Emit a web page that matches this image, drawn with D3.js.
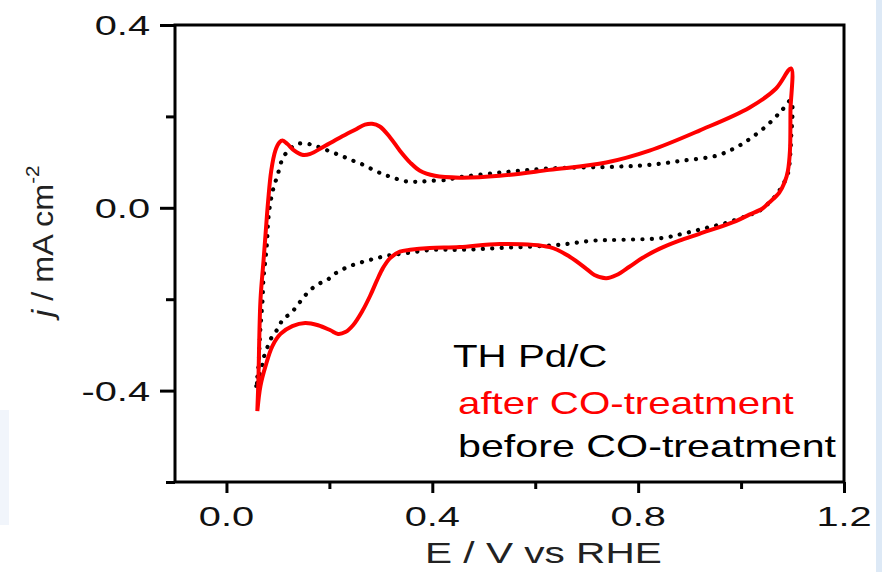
<!DOCTYPE html>
<html>
<head>
<meta charset="utf-8">
<script src="https://cdn.jsdelivr.net/npm/d3@7"></script>
<style>
  body { margin: 0; background: #ffffff; }
  svg { display: block; font-family: "Liberation Sans", Arial, sans-serif; }
</style>
</head>
<body>
<div id="chart"></div>
<script>
// after CO-treatment (red, solid) - potential E (V) and current j (mA cm-2)
const E_AFTER = [0.060, 0.062, 0.066, 0.072, 0.076, 0.081, 0.087, 0.095, 0.103, 0.109, 0.118, 0.132, 0.147, 0.163,
    0.186, 0.221, 0.250, 0.269, 0.283, 0.298, 0.318, 0.337, 0.357, 0.376, 0.405, 0.453, 0.531, 0.628, 0.738, 0.822,
    0.919, 1.016, 1.068, 1.097,
    1.096, 1.095, 1.091, 1.085, 1.074, 1.054, 1.041, 1.016, 0.990, 0.919, 0.880, 0.841, 0.808, 0.783, 0.758, 0.738,
    0.715, 0.700, 0.667, 0.628, 0.531, 0.453, 0.395, 0.357, 0.337, 0.318, 0.304, 0.292, 0.279, 0.264, 0.246, 0.231,
    0.217, 0.202, 0.178, 0.153, 0.128, 0.105, 0.089, 0.076, 0.066, 0.060];
const J_AFTER = [-0.445, -0.379, -0.204, -0.116, -0.057, 0.015, 0.081, 0.125, 0.143, 0.147, 0.140, 0.125, 0.116, 0.118,
    0.132, 0.154, 0.171, 0.182, 0.184, 0.178, 0.154, 0.125, 0.099, 0.081, 0.070, 0.066, 0.070, 0.083, 0.099, 0.125,
    0.169, 0.219, 0.261, 0.305,
    0.213, 0.125, 0.081, 0.057, 0.033, 0.011, -0.002, -0.015, -0.029, -0.057, -0.072, -0.090, -0.110, -0.129, -0.147, -0.154,
    -0.147, -0.134, -0.107, -0.086, -0.079, -0.086, -0.088, -0.092, -0.096, -0.110, -0.132, -0.160, -0.193, -0.226, -0.257, -0.272,
    -0.276, -0.268, -0.257, -0.252, -0.259, -0.276, -0.303, -0.346, -0.390, -0.445];

// before CO-treatment (black, dotted)
const E_BEFORE = [0.058, 0.062, 0.064, 0.066, 0.070, 0.072, 0.076, 0.079, 0.081, 0.085, 0.091, 0.099, 0.110, 0.124,
    0.138, 0.157, 0.172, 0.188, 0.207, 0.227, 0.246, 0.266, 0.289, 0.308, 0.324, 0.343, 0.360, 0.376, 0.395, 0.428,
    0.448, 0.531, 0.628, 0.758, 0.822, 0.886, 0.952, 0.990, 1.021, 1.054, 1.079, 1.097,
    1.097, 1.095, 1.091, 1.074, 1.058, 1.035, 1.010, 0.971, 0.932, 0.893, 0.847, 0.769, 0.711, 0.647, 0.531, 0.453,
    0.401, 0.351, 0.312, 0.279, 0.246, 0.227, 0.207, 0.196, 0.178, 0.163, 0.149, 0.138, 0.124, 0.110, 0.101, 0.089,
    0.079, 0.072, 0.068, 0.062, 0.058];
const J_BEFORE = [-0.390, -0.351, -0.307, -0.263, -0.204, -0.154, -0.110, -0.072, -0.029, 0.009, 0.042, 0.070, 0.110, 0.129,
    0.140, 0.140, 0.136, 0.129, 0.121, 0.112, 0.103, 0.094, 0.081, 0.072, 0.066, 0.059, 0.057, 0.057, 0.059, 0.061,
    0.066, 0.077, 0.086, 0.090, 0.094, 0.103, 0.114, 0.132, 0.154, 0.184, 0.213, 0.235,
    0.147, 0.110, 0.075, 0.037, 0.015, -0.007, -0.018, -0.033, -0.044, -0.055, -0.066, -0.070, -0.072, -0.081, -0.088, -0.092,
    -0.092, -0.099, -0.105, -0.114, -0.125, -0.134, -0.147, -0.158, -0.167, -0.180, -0.197, -0.213, -0.232, -0.243, -0.263, -0.281,
    -0.307, -0.329, -0.351, -0.373, -0.390];

const X_TICKS = [0.0, 0.4, 0.8, 1.2];
const X_MINOR = [0.2, 0.6, 1.0];
const Y_TICKS = [-0.4, 0.0, 0.4];
const Y_MINOR = [-0.6, -0.2, 0.2];

const X_LABEL = "E / V vs RHE";
const LEGEND_TITLE = "TH Pd/C";
const LEGEND_AFTER = "after CO-treatment";
const LEGEND_BEFORE = "before CO-treatment";

const W = 882, H = 572;
const LEFT = 175, RIGHT = 844, TOP = 25, BOTTOM = 482;

const svg = d3.select("#chart").append("svg")
    .attr("width", W)
    .attr("height", H);

// light blue screenshot edges
svg.append("rect").attr("x", 0).attr("y", 0).attr("width", W).attr("height", H).attr("fill", "#ffffff");
svg.append("rect").attr("x", 876).attr("y", 0).attr("width", 6).attr("height", H).attr("fill", "#dde9f6");
svg.append("rect").attr("x", 0).attr("y", 410).attr("width", 9).attr("height", 115).attr("fill", "#f1f5fb");

const x = d3.scaleLinear().domain([-0.1, 1.2]).range([LEFT, RIGHT]);
const y = d3.scaleLinear().domain([-0.6, 0.4]).range([BOTTOM, TOP]);

// stretched text helper (the source figure is horizontally stretched)
function addText(px, py, str, size, anchor, fill, sx) {
    return svg.append("text")
        .attr("transform", `translate(${px},${py}) scale(${sx},1)`)
        .attr("text-anchor", anchor)
        .attr("font-size", size)
        .attr("fill", fill)
        .text(str);
}

// curves
const lineAfter = d3.line()
    .x((d, i) => x(E_AFTER[i]))
    .y((d, i) => y(J_AFTER[i]))
    .curve(d3.curveCatmullRom.alpha(0.5));
const lineBefore = d3.line()
    .x((d, i) => x(E_BEFORE[i]))
    .y((d, i) => y(J_BEFORE[i]))
    .curve(d3.curveCatmullRom.alpha(0.5));

svg.append("path")
    .attr("d", lineBefore(E_BEFORE))
    .attr("fill", "none")
    .attr("stroke", "#000")
    .attr("stroke-width", 4.2)
    .attr("stroke-linecap", "round")
    .attr("stroke-dasharray", "0.1 9.3");

svg.append("path")
    .attr("d", lineAfter(E_AFTER))
    .attr("fill", "none")
    .attr("stroke", "#ff0000")
    .attr("stroke-width", 4)
    .attr("stroke-linejoin", "round");

// axes (ticks only, labels drawn separately)
const axisStyle = g => {
    g.select(".domain").remove();
    g.selectAll("line").attr("stroke", "#000").attr("stroke-width", 3);
    g.selectAll("text").remove();
};
svg.append("g").attr("transform", `translate(${LEFT},0)`)
    .call(d3.axisLeft(y).tickValues(Y_TICKS).tickSize(15)).call(axisStyle);
svg.append("g").attr("transform", `translate(${LEFT},0)`)
    .call(d3.axisLeft(y).tickValues(Y_MINOR).tickSize(9)).call(axisStyle);
svg.append("g").attr("transform", `translate(0,${BOTTOM})`)
    .call(d3.axisBottom(x).tickValues(X_TICKS).tickSize(11)).call(axisStyle);
svg.append("g").attr("transform", `translate(0,${BOTTOM})`)
    .call(d3.axisBottom(x).tickValues(X_MINOR).tickSize(7)).call(axisStyle);

// frame
svg.append("rect")
    .attr("x", LEFT).attr("y", TOP)
    .attr("width", RIGHT - LEFT).attr("height", BOTTOM - TOP)
    .attr("fill", "none")
    .attr("stroke", "#000")
    .attr("stroke-width", 3);

// tick labels (plain hyphen minus as in the figure)
const fmt = v => v.toFixed(1);
Y_TICKS.forEach(v => addText(LEFT - 25, y(v) + 10, fmt(v), 28, "end", "#111", 1.42));
X_TICKS.forEach(v => addText(x(v), 526, fmt(v), 28, "middle", "#111", 1.42));

// axis titles
addText(425, 563, X_LABEL, 29, "start", "#222", 1.4);

const yl = svg.append("text")
    .attr("transform", `translate(53,317) rotate(-90) scale(1.08,1)`)
    .attr("font-size", 30)
    .attr("fill", "#222");
yl.append("tspan").attr("font-style", "italic").text("j");
yl.append("tspan").text(" / mA cm");
yl.append("tspan").attr("font-size", 19).attr("dy", -14).text("-2");

// legend text
addText(453, 367, LEGEND_TITLE, 31, "start", "#000", 1.3);
addText(458, 414, LEGEND_AFTER, 31, "start", "#ff0000", 1.3);
addText(458, 457, LEGEND_BEFORE, 31, "start", "#000", 1.33);
</script>
</body>
</html>
